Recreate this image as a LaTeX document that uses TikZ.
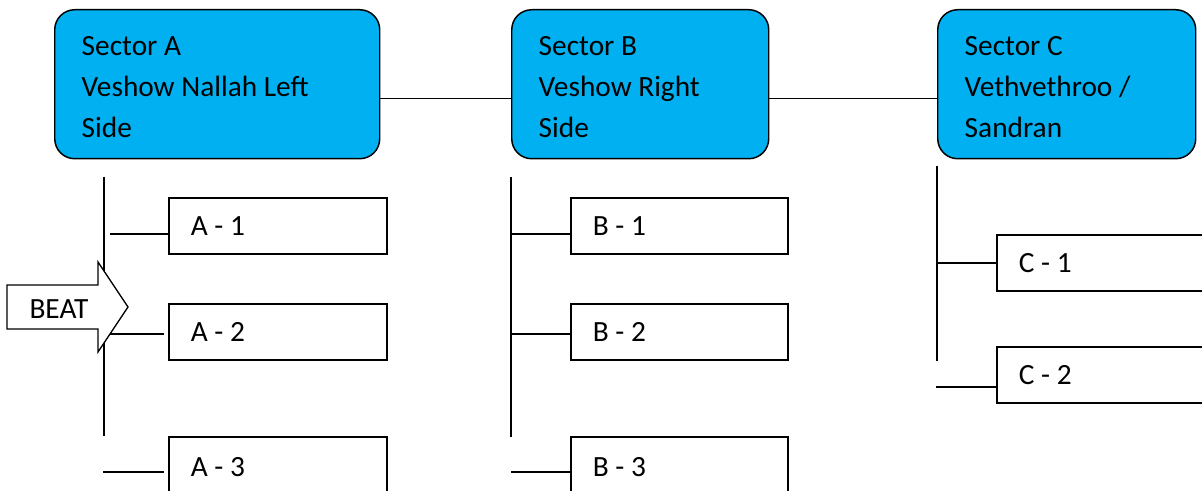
\documentclass[tikz,border=0pt]{standalone}
\usepackage{fontspec}
\setmainfont{Carlito}
\usetikzlibrary{calc}
\definecolor{sectorblue}{HTML}{00B0F0}
\tikzset{
	every node/.style={font=\fontsize{22}{30.75}\selectfont},
	sector/.style={draw, fill=sectorblue, line width=1.1pt, rounded corners=15pt, anchor=north west, align=flush left, inner xsep=20.25pt, inner ysep=0pt, minimum height=111.75pt, text width=#1},
	beatbox/.style={draw, line width=1.3pt, anchor=north west, align=flush left, inner xsep=16.5pt, inner ysep=0pt, minimum height=42pt, text width=#1},
	trunk/.style={line width=1.4pt},
	link/.style={line width=1pt}
}
\begin{document}
\begin{tikzpicture}[x=0.75pt,y=-0.75pt]
			\useasboundingbox (0,0) rectangle (1202,491);
			% sectors
			\node[sector=203.25pt] (secA) at (54,9) {\rule{0pt}{19pt}Sector A\\Veshow Nallah Left\\Side};
			\node[sector=152.25pt] (secB) at (511,9) {\rule{0pt}{19pt}Sector B\\Veshow Right\\Side};
			\node[sector=153pt] (secC) at (937,9) {\rule{0pt}{19pt}Sector C\\Vethvethroo /\\Sandran};
			\draw[link]
			([yshift=-10.9pt]secA.east) -- ([yshift=-10.9pt]secB.west);
			\draw[link]
			([yshift=-10.9pt]secB.east) -- ([yshift=-10.9pt]secC.west);
			
			% beats
			\node[beatbox=130.5pt] (a1) at (168,197) {A - 1};
			\node[beatbox=130.5pt] (a2) at (168,303) {A - 2};
			\node[beatbox=130.5pt, minimum height=45pt] (a3) at (168,436) {A - 3};
			\node[beatbox=129.75pt] (b1) at (570,197) {B - 1};
			\node[beatbox=129.75pt] (b2) at (570,303) {B - 2};
			\node[beatbox=129.75pt, minimum height=45pt] (b3) at (570,436) {B - 3};
			\node[beatbox=180pt] (c1) at (996,234) {C - 1};
			\node[beatbox=180pt] (c2) at (996,346) {C - 2};
			
			% trunks
			\coordinate (aTop) at (104,177);
			\coordinate (aBot) at (104,436);
			\coordinate (bTop) at (511,177);
			\coordinate (bBot) at (511,437);
			\coordinate (cTop) at (937,166);
			\coordinate (cBot) at (937,361);
			\draw[trunk] (aTop) -- (aBot);
			\draw[trunk] (bTop) -- (bBot);
			\draw[trunk] (cTop) -- (cBot);
			
			\coordinate (a1s) at (110,234);
			\coordinate (a2s) at (108,334);
			\coordinate (a3s) at (103,472);
			\coordinate (b1s) at (511,234);
			\coordinate (b2s) at (511,334);
			\coordinate (b3s) at (511,472);
			\coordinate (c1s) at (937,263);
			\coordinate (c2s) at (936,387);
			\draw[trunk] (a1s) -- (a1s -| a1.west);
			\draw[trunk, shorten >=3pt] (a2s) -- (a2s -| a2.west);
			\draw[trunk, shorten >=3pt] (a3s) -- (a3s -| a3.west);
			\draw[trunk] (b1s) -- (b1s -| b1.west);
			\draw[trunk] (b2s) -- (b2s -| b2.west);
			\draw[trunk] (b3s) -- (b3s -| b3.west);
			\draw[trunk] (c1s) -- (c1s -| c1.west);
			\draw[trunk] (c2s) -- (c2s -| c2.west);
			
			% beat arrow
			\draw[line width=1pt, fill=white]
			(7,285) -- (98,285) -- (98,262) -- (128,307) -- (98,352) -- (98,329) -- (7,329) -- cycle;
			\node (beat) at (59,309) {BEAT};
		
		\end{tikzpicture}
\end{document}
